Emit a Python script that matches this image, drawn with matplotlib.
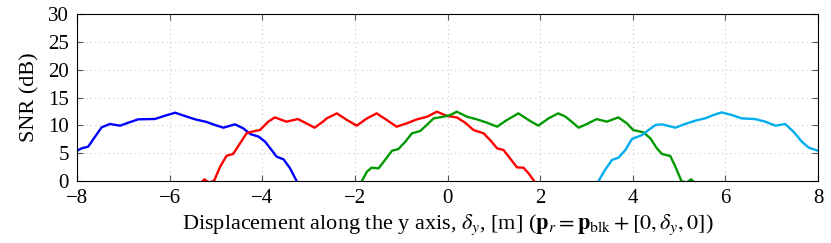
import matplotlib.pyplot as plt

# values (dB); points below 0 are clipped by ylim
blue_x = [-8.0, -7.9, -7.76, -7.61, -7.47, -7.29, -7.07, -6.89, -6.68, -6.32, -6.10, -5.88,
          -5.67, -5.45, -5.20, -5.02, -4.84, -4.59, -4.41, -4.26, -4.08, -3.94, -3.80, -3.69,
          -3.54, -3.40, -3.27, -3.1]
blue_y = [5.44, 5.87, 6.17, 7.97, 9.64, 10.24, 9.94, 10.48, 11.08, 11.14, 11.73, 12.27,
          11.67, 11.08, 10.6, 10.06, 9.58, 10.18, 9.46, 8.44, 7.97, 7.07, 5.57, 4.37,
          3.89, 2.27, 0.18, -3.0]

red_x = [-5.45, -5.33, -5.25, -5.15, -5.04, -4.91, -4.77, -4.63, -4.48, -4.34, -4.23, -4.05,
         -3.87, -3.73, -3.48, -3.23, -3.05, -2.87, -2.69, -2.61, -2.39, -2.17, -1.96, -1.74,
         -1.53, -1.31, -1.10, -0.88, -0.66, -0.44, -0.23, -0.01, 0.20, 0.38, 0.56, 0.78,
         0.92, 1.07, 1.21, 1.35, 1.50, 1.64, 1.75, 1.87, 2.0]
red_y = [-3.0, -0.4, 0.3, -0.3, 0.06, 2.57, 4.55, 4.85, 6.76, 8.56, 8.86, 9.16,
         10.66, 11.43, 10.66, 11.13, 10.36, 9.58, 10.66, 11.25, 12.15, 10.95, 9.94, 11.25,
         12.15, 10.95, 9.76, 10.36, 11.08, 11.55, 12.45, 11.67, 11.43, 10.48, 9.16, 8.56,
         7.36, 5.87, 5.57, 4.07, 2.45, 2.39, 1.38, 0.0, -2.0]

green_x = [-2.0, -1.85, -1.74, -1.64, -1.49, -1.35, -1.20, -1.06, -0.91, -0.77, -0.59, -0.45,
           -0.30, -0.09, 0.06, 0.20, 0.42, 0.63, 0.85, 1.07, 1.28, 1.53, 1.75, 1.96, 2.18,
           2.39, 2.54, 2.68, 2.83, 3.01, 3.22, 3.44, 3.69, 3.87, 4.01, 4.23, 4.38, 4.52,
           4.63, 4.81, 4.92, 5.05, 5.16, 5.26, 5.35, 5.45]
green_y = [-2.0, 0.0, 1.68, 2.39, 2.27, 3.77, 5.44, 5.74, 7.07, 8.56, 8.98, 10.06,
           11.25, 11.55, 11.85, 12.45, 11.55, 11.08, 10.48, 9.76, 10.95, 12.15, 10.95, 9.94, 11.25,
           12.15, 11.6, 10.66, 9.58, 10.24, 11.13, 10.66, 11.43, 10.36, 9.16, 8.74, 7.66, 5.87,
           4.85, 4.49, 2.57, 0.0, -0.3, 0.3, -0.4, -3.0]

cyan_x = [3.1, 3.26, 3.40, 3.55, 3.69, 3.84, 3.98, 4.20, 4.34, 4.49, 4.63, 4.92, 5.13,
          5.35, 5.56, 5.74, 5.92, 6.14, 6.35, 6.64, 6.86, 7.08, 7.29, 7.47, 7.65, 7.80, 8.0]
cyan_y = [-3.0, 0.0, 1.98, 3.77, 4.19, 5.57, 7.54, 8.26, 9.16, 10.06, 10.18, 9.58, 10.24,
          10.84, 11.25, 11.85, 12.33, 11.85, 11.25, 11.13, 10.66, 9.94, 10.24, 8.86, 7.07, 5.99, 5.44]

x_ticks = [-8, -6, -4, -2, 0, 2, 4, 6, 8]
y_ticks = [0, 5, 10, 15, 20, 25, 30]

plt.rcParams['font.family'] = ['Liberation Serif', 'DejaVu Serif']
plt.rcParams['mathtext.fontset'] = 'stix'

fig = plt.figure(figsize=(8.31, 2.43), dpi=100)
ax = fig.add_axes([0.0927, 0.2551, 0.8917, 0.6873])

lw = 1.7
ax.plot(blue_x, blue_y, color='#0000ff', lw=lw, solid_joinstyle='round')
ax.plot(red_x, red_y, color='#ff0000', lw=lw, solid_joinstyle='round')
ax.plot(green_x, green_y, color='#009900', lw=lw, solid_joinstyle='round')
ax.plot(cyan_x, cyan_y, color='#00aeef', lw=lw, solid_joinstyle='round')

ax.set_xlim(-8, 8)
ax.set_ylim(0, 30)
ax.set_xticks(x_ticks)
ax.set_yticks(y_ticks)
ax.grid(True, linestyle=(0, (1, 3)), color='#c8c8c8', lw=0.8)
ax.tick_params(direction='in', top=True, right=True, length=4, labelsize=15,
               colors='#555555', labelcolor='black')
ax.tick_params(axis='x', pad=6)
ax.tick_params(axis='y', pad=6)
for s in ax.spines.values():
    s.set_linewidth(0.8)

ax.set_ylabel('SNR (dB)', fontsize=16, labelpad=6)
ax.set_xlabel(r'Displacement along the y axis, $\delta_y$, [m] '
              r'($\mathbf{p}_r = \mathbf{p}_{\mathrm{blk}} + [0, \delta_y, 0]$)', fontsize=16, labelpad=3)

fig.savefig('out.png', dpi=100)
